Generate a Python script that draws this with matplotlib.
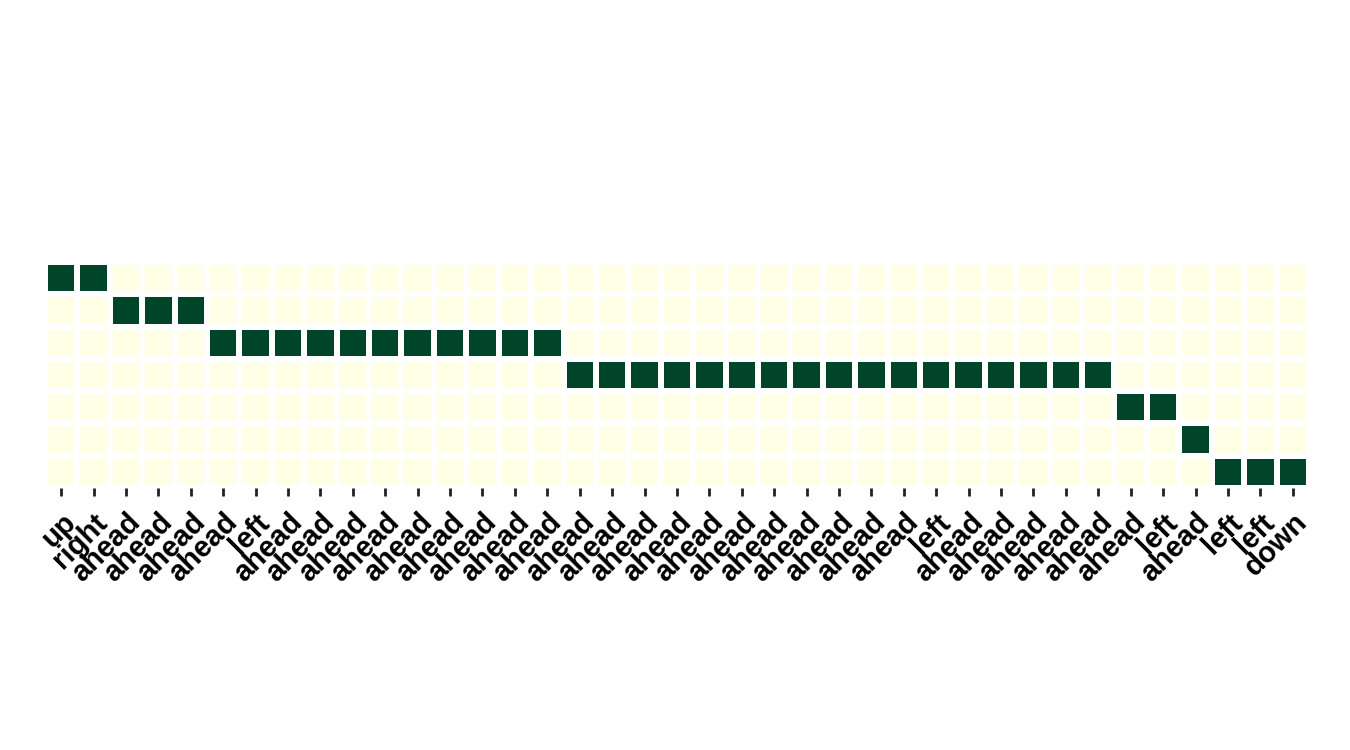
import numpy as np
import matplotlib
matplotlib.use('Agg')
import matplotlib.pyplot as plt
import seaborn as sns

# action labels along x, one per step
actions = ['up', 'right', 'ahead', 'ahead', 'ahead', 'ahead', 'left',
           'ahead', 'ahead', 'ahead', 'ahead', 'ahead', 'ahead', 'ahead',
           'ahead', 'ahead', 'ahead', 'ahead', 'ahead', 'ahead', 'ahead',
           'ahead', 'ahead', 'ahead', 'ahead', 'ahead', 'ahead', 'left',
           'ahead', 'ahead', 'ahead', 'ahead', 'ahead', 'ahead', 'left',
           'ahead', 'left', 'left', 'down']

# active row (state) for each step
active_row = [0, 0, 1, 1, 1, 2, 2, 2, 2, 2, 2, 2, 2, 2, 2, 2,
              3, 3, 3, 3, 3, 3, 3, 3, 3, 3, 3, 3, 3, 3, 3, 3, 3,
              4, 4, 5, 6, 6, 6]
n_rows = 7

grid = np.zeros((n_rows, len(actions)))
for col, row in enumerate(active_row):
    grid[row, col] = 1

fig = plt.figure(figsize=(13.5, 7.5), dpi=100)
ax = fig.add_axes([0.0333, 0.3493, 0.9363, 0.3014])

sns.heatmap(grid, cmap='YlGn', cbar=False, linewidths=4.3, linecolor='white',
            xticklabels=actions, yticklabels=False, ax=ax)

ax.tick_params(axis='x', length=5.5, width=2, color='#222222', pad=9)
ax.tick_params(axis='y', length=0)
for lbl in ax.get_xticklabels():
    lbl.set_rotation(45)
    lbl.set_rotation_mode('anchor')
    lbl.set_ha('right')
    lbl.set_va('top')
    lbl.set_fontsize(21)
    lbl.set_fontweight('bold')
    lbl.set_family('Liberation Sans')

plt.savefig('out.png', dpi=100)
